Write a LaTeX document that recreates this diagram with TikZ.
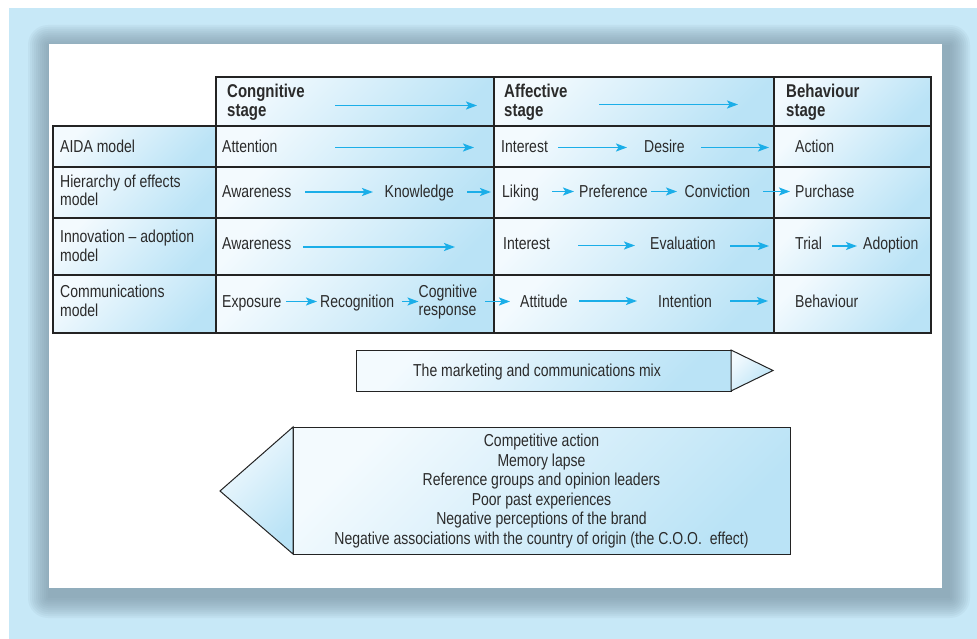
\documentclass[tikz,border=0pt]{standalone}
\usepackage{fontspec}
\setmainfont{Liberation Sans}[FakeStretch=0.81]
\usetikzlibrary{arrows.meta}
\definecolor{bgblue}{HTML}{C7E8F7}
\definecolor{shadowc}{HTML}{7690A0}
\definecolor{cellA}{HTML}{F3FAFE}
\definecolor{cellB}{HTML}{BAE3F6}
\definecolor{linec}{HTML}{232323}
\definecolor{txtc}{HTML}{2B2B2B}
\definecolor{arrowc}{HTML}{1BAEE8}
\newcommand\flowarrow[4]{%
  \coordinate (#1s) at (#2,#4);
  \coordinate (#1e) at (#3,#4);
  \draw[flow] (#1s) -- (#1e);}
\begin{document}
\begin{tikzpicture}[x=1pt,y=-1pt,
  cell/.style={draw=linec, line width=1.5pt, left color=cellA, right color=cellB, shading angle=45},
  shp/.style={draw=linec, line width=1pt, left color=cellA, right color=cellB, shading angle=45},
  txt/.style={inner sep=0pt, text=txtc, font=\fontsize{17.3}{18.5}\selectfont, anchor=base west},
  hdr/.style={txt, font=\bfseries\fontsize{18.5}{19}\selectfont, align=left},
  flow/.style={draw=arrowc, line width=1.5pt, -{Stealth[length=11pt,width=8pt,inset=2.5pt]}},
]
\useasboundingbox (0,0) rectangle (977,639);
% background
\fill[white] (0,0) rectangle (977,639);
\fill[bgblue] (9,8) rectangle (977,639);
% shadow
\foreach \r in {0,2,...,20}
  \fill[shadowc, opacity=0.085, rounded corners=\r pt] (48-\r,45-\r) rectangle (950+\r,598+\r);
% panel
\fill[white] (49,44) rectangle (942,588);

% header cells
\path[cell] (216,77) rectangle (494,126);
\path[cell] (494,77) rectangle (774,126);
\path[cell] (774,77) rectangle (931,126);
% body cells
\foreach \ya/\yb in {126/167,167/218,218/275,275/333}{
  \path[cell] (53,\ya) rectangle (216,\yb);
  \path[cell] (216,\ya) rectangle (494,\yb);
  \path[cell] (494,\ya) rectangle (774,\yb);
  \path[cell] (774,\ya) rectangle (931,\yb);
}

% header text (base anchor = baseline of last line)
\node[hdr] (hc) at (227,117) {Congnitive\\stage};
\node[hdr] (ha) at (504,117) {Affective\\stage};
\node[hdr] (hb) at (786,117) {Behaviour\\stage};

% row labels
\node[txt] (l1) at (60,152.5) {AIDA model};
\node[txt,align=left] (l2) at (60,206) {Hierarchy of effects\\model};
\node[txt,align=left] (l3) at (60,261) {Innovation – adoption\\model};
\node[txt,align=left] (l4) at (60,316) {Communications\\model};

% AIDA
\node[txt] (a1) at (222,152.5) {Attention};
\node[txt] (a2) at (501,152.5) {Interest};
\node[txt] (a3) at (644,152.5) {Desire};
\node[txt] (a4) at (795,152.5) {Action};
% Hierarchy
\node[txt] (b1) at (222,197.5) {Awareness};
\node[txt] (b2) at (384.5,197.5) {Knowledge};
\node[txt] (b3) at (502,197.5) {Liking};
\node[txt] (b4) at (579,197.5) {Preference};
\node[txt] (b5) at (684.5,197.5) {Conviction};
\node[txt] (b6) at (795,197.5) {Purchase};
% Innovation
\node[txt] (c1) at (222,250) {Awareness};
\node[txt] (c2) at (503,250) {Interest};
\node[txt] (c3) at (650,250) {Evaluation};
\node[txt] (c4) at (795,250) {Trial};
\node[txt] (c5) at (863,250) {Adoption};
% Communications
\node[txt] (d1) at (222,307) {Exposure};
\node[txt] (d2) at (320,307) {Recognition};
\node[txt,align=left] (d3) at (418.5,315.5) {Cognitive\\response};
\node[txt] (d4) at (520,307) {Attitude};
\node[txt] (d5) at (658,307) {Intention};
\node[txt] (d6) at (795,307) {Behaviour};

% arrows
\flowarrow{h1}{335}{477}{105.5}
\flowarrow{h2}{599}{738}{104.5}
\flowarrow{a12}{335}{474}{147.5}
\flowarrow{a23}{558}{627}{147.5}
\flowarrow{a34}{701}{769}{147.5}
\flowarrow{b12}{305}{373}{192}
\flowarrow{b23}{467}{491}{192}
\flowarrow{b34}{552}{574}{191.5}
\flowarrow{b45}{651}{677}{191.5}
\flowarrow{b56}{763}{790}{191.5}
\flowarrow{c12}{303}{455}{247}
\flowarrow{c23}{578}{635}{245.5}
\flowarrow{c34}{730}{769}{246}
\flowarrow{c45}{832}{857}{246}
\flowarrow{d12}{286}{317}{301.5}
\flowarrow{d23}{402}{418.5}{301.5}
\flowarrow{d34}{485}{510}{301.5}
\flowarrow{d45}{579}{637}{301}
\flowarrow{d56}{730}{768}{301}

% marketing mix arrow
\path[shp] (356,350) rectangle (731,391);
\path[shp] (731,350) -- (773,370.5) -- (731,391) -- cycle;
\node[txt,anchor=base] (mix) at (537,376) {The marketing and communications mix};

% negative factors arrow
\path[shp] (293,427) rectangle (790,554);
\path[shp] (293,427) -- (220,491) -- (293,554) -- cycle;
\node[txt,anchor=base,align=center,font=\fontsize{17.3}{19.6}\selectfont] (neg) at (541.5,544.5)
  {Competitive action\\Memory lapse\\Reference groups and opinion leaders\\Poor past experiences\\Negative perceptions of the brand\\Negative associations with the country of origin (the C.O.O.\ \ effect)};
\end{tikzpicture}
\end{document}
